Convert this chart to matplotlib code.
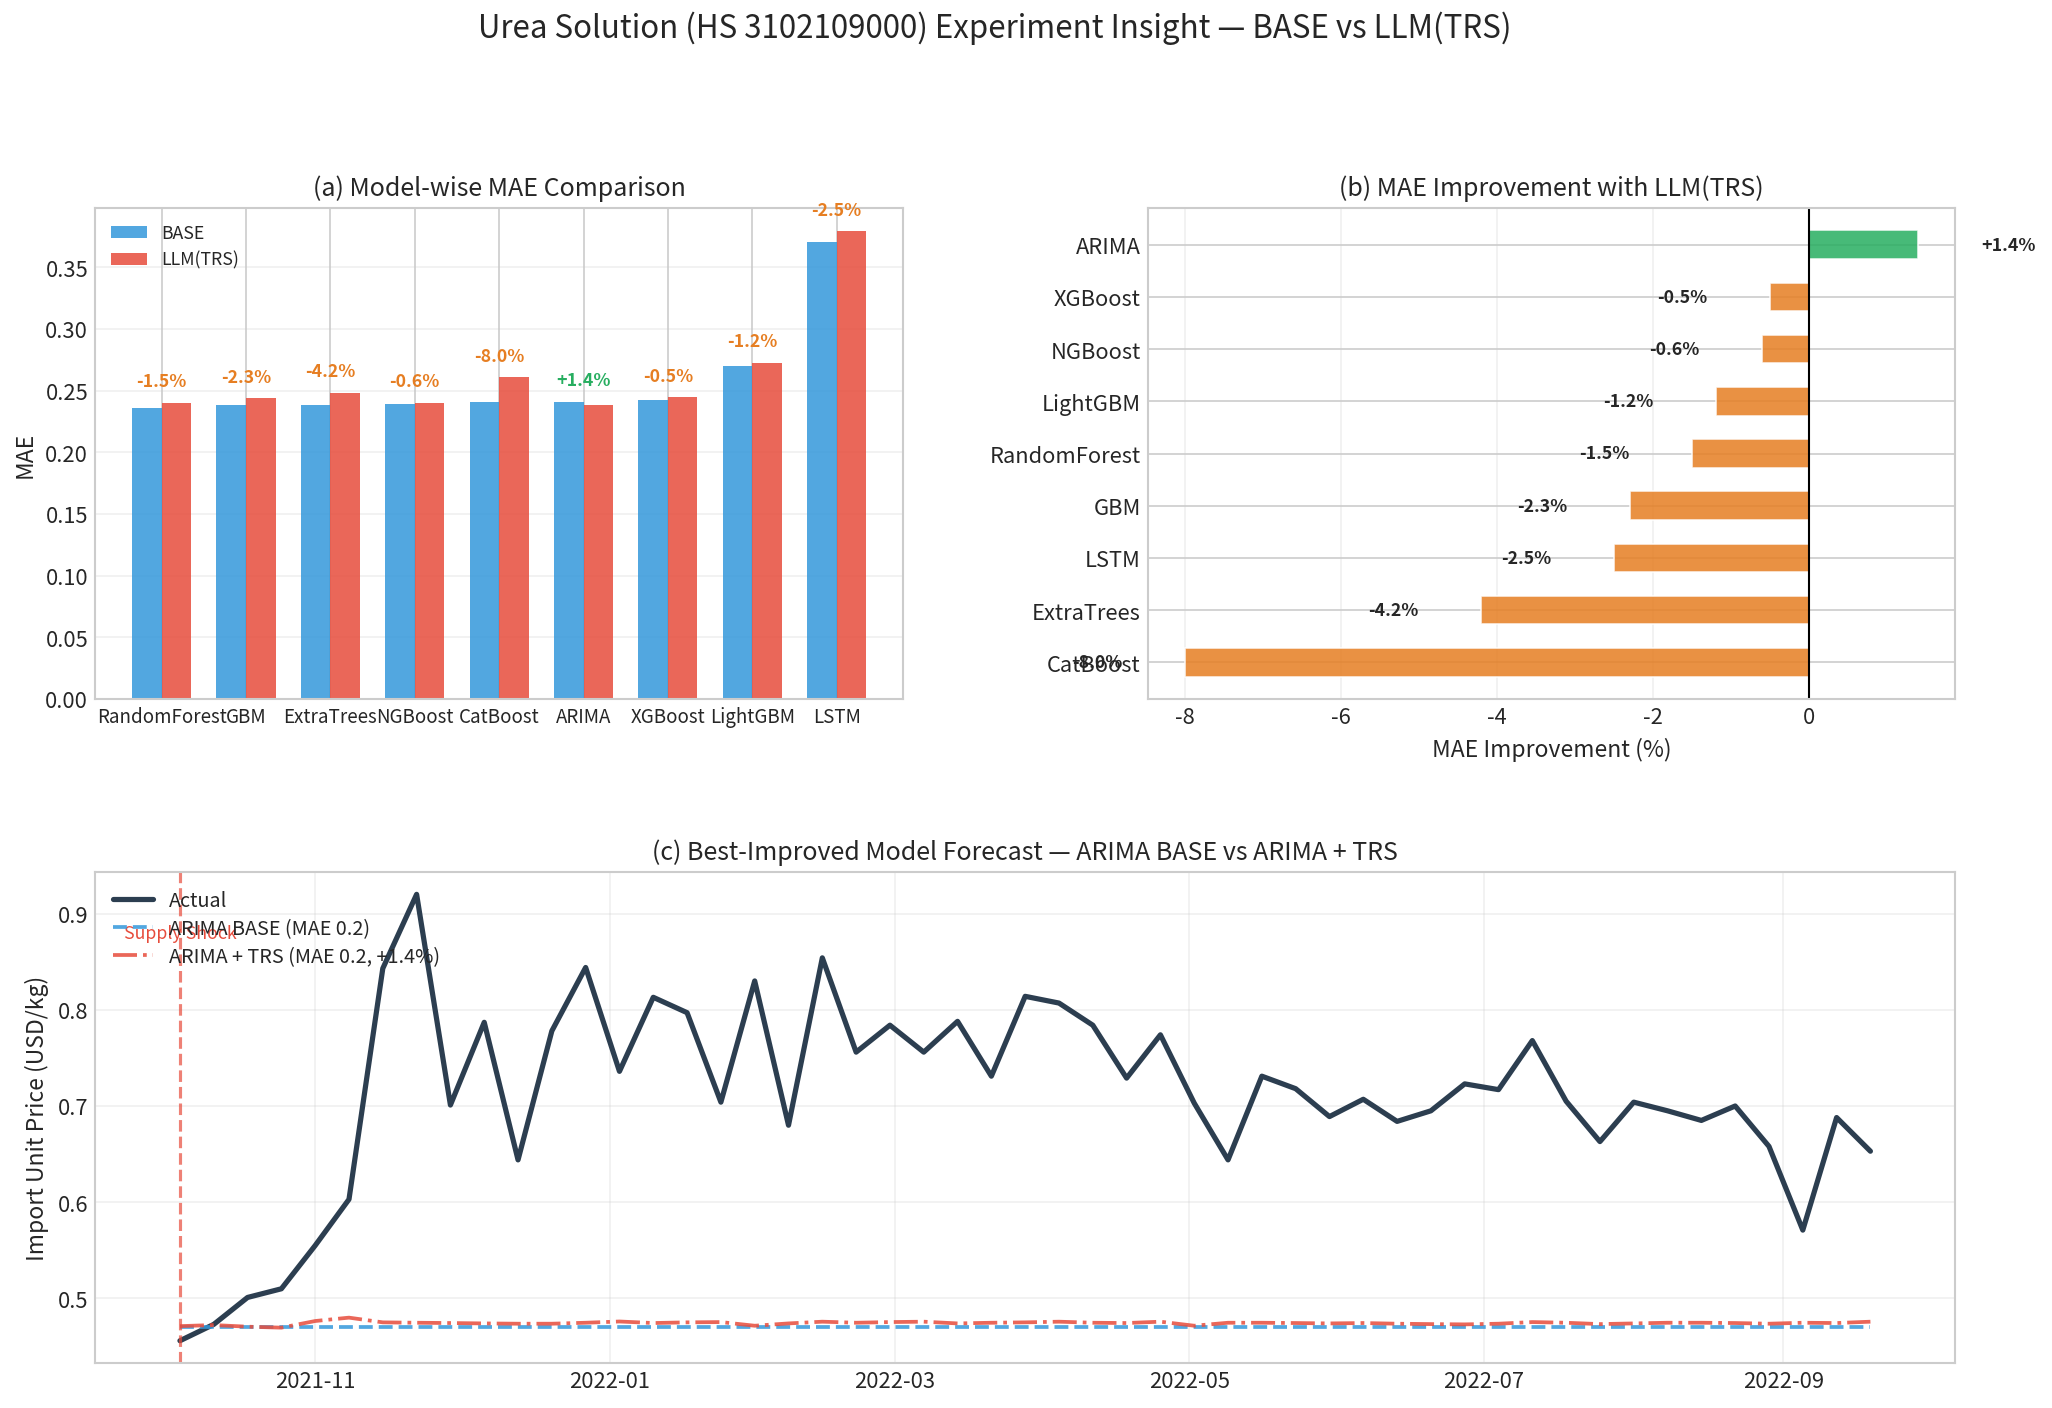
import matplotlib
matplotlib.use("Agg")
import matplotlib.pyplot as plt
import matplotlib.dates as mdates
import numpy as np
import pandas as pd

plt.style.use("seaborn-v0_8-whitegrid")
plt.rcParams["font.family"] = ["Noto Sans CJK KR", "DejaVu Sans"]
plt.rcParams["axes.unicode_minus"] = False

# ---- data ----
MODELS = ["RandomForest", "GBM", "ExtraTrees", "NGBoost", "CatBoost",
          "ARIMA", "XGBoost", "LightGBM", "LSTM"]
BASE_MAE = [0.2362, 0.2379, 0.2379, 0.2388, 0.2410, 0.2410, 0.2427, 0.2703, 0.3702]
TRS_MAE = [0.2402, 0.2436, 0.2484, 0.2402, 0.2607, 0.2379, 0.2444, 0.2726, 0.3790]
IMPROVE_PCT = [-1.5, -2.3, -4.2, -0.6, -8.0, 1.4, -0.5, -1.2, -2.5]

START_DATE = "2021-10-04"
ACTUAL = [0.456, 0.473, 0.501, 0.510, 0.555, 0.603, 0.843, 0.920, 0.701, 0.787,
          0.644, 0.778, 0.844, 0.736, 0.813, 0.797, 0.704, 0.830, 0.680, 0.854,
          0.756, 0.784, 0.756, 0.788, 0.731, 0.814, 0.807, 0.784, 0.729, 0.774,
          0.703, 0.644, 0.731, 0.718, 0.689, 0.707, 0.684, 0.695, 0.723, 0.717,
          0.768, 0.705, 0.663, 0.704, 0.695, 0.685, 0.700, 0.658, 0.571, 0.688,
          0.653]
ARIMA_BASE = [0.4706, 0.4706, 0.4706, 0.4706, 0.4706, 0.4706, 0.4706, 0.4706, 0.4706, 0.4706,
              0.4706, 0.4706, 0.4706, 0.4706, 0.4706, 0.4706, 0.4706, 0.4706, 0.4706, 0.4706,
              0.4706, 0.4706, 0.4706, 0.4706, 0.4706, 0.4706, 0.4706, 0.4706, 0.4706, 0.4706,
              0.4706, 0.4706, 0.4706, 0.4706, 0.4706, 0.4706, 0.4706, 0.4706, 0.4706, 0.4706,
              0.4706, 0.4706, 0.4706, 0.4706, 0.4706, 0.4706, 0.4706, 0.4706, 0.4706, 0.4706,
              0.4706]
ARIMA_TRS = [0.4712, 0.4723, 0.4706, 0.4696, 0.4765, 0.4800, 0.4751, 0.4747, 0.4744, 0.4740,
             0.4737, 0.4737, 0.4747, 0.4760, 0.4744, 0.4751, 0.4754, 0.4716, 0.4740, 0.4758,
             0.4747, 0.4754, 0.4758, 0.4740, 0.4747, 0.4751, 0.4758, 0.4747, 0.4744, 0.4758,
             0.4716, 0.4747, 0.4747, 0.4744, 0.4740, 0.4744, 0.4737, 0.4733, 0.4730, 0.4737,
             0.4754, 0.4747, 0.4733, 0.4740, 0.4747, 0.4747, 0.4744, 0.4737, 0.4747, 0.4744,
             0.4758]
SHOCK_LABEL_Y = 0.88

C_BASE = "#3498db"
C_TRS = "#e74c3c"
C_NEG = "#e67e22"
C_POS = "#27ae60"
C_ACT = "#2c3e50"

fig = plt.figure(figsize=(13.68, 9.393), dpi=150)
ax_a = fig.add_axes([0.0465, 0.5032, 0.3935, 0.3485])
ax_b = fig.add_axes([0.5595, 0.5032, 0.3933, 0.3485])
ax_c = fig.add_axes([0.0465, 0.0319, 0.9062, 0.3485])

# (a) model-wise MAE
x = np.arange(len(MODELS))
w = 0.35
ax_a.bar(x - w / 2, BASE_MAE, w, color=C_BASE, alpha=0.85, label="BASE")
ax_a.bar(x + w / 2, TRS_MAE, w, color=C_TRS, alpha=0.85, label="LLM(TRS)")
for i, imp in enumerate(IMPROVE_PCT):
    top = max(BASE_MAE[i], TRS_MAE[i])
    ax_a.text(x[i], top + 0.01, f"{imp:+.1f}%", ha="center", va="bottom",
              fontsize=8.5, fontweight="bold", color=C_POS if imp > 0 else C_NEG)
ax_a.set_xticks(x)
ax_a.set_xticklabels(MODELS, fontsize=9)
ax_a.tick_params(axis="y", labelsize=10.5)
ax_a.set_ylabel("MAE", fontsize=11)
ax_a.set_title("(a) Model-wise MAE Comparison", fontsize=12)
ax_a.legend(loc="upper left", fontsize=8.5)
ax_a.grid(axis="y", alpha=0.3)

# (b) improvement, sorted
order = np.argsort(IMPROVE_PCT)
names_sorted = [MODELS[i] for i in order]
imp_sorted = [IMPROVE_PCT[i] for i in order]
colors = [C_POS if v > 0 else C_NEG for v in imp_sorted]
y = np.arange(len(names_sorted))
ax_b.barh(y, imp_sorted, height=0.55, color=colors, alpha=0.85,
          edgecolor="white", linewidth=0.8)
ax_b.axvline(0, color="black", linewidth=1)
for yi, v in zip(y, imp_sorted):
    if v < 0:
        ax_b.text(v - 0.8, yi, f"{v:+.1f}%", ha="right", va="center",
                  fontsize=8.5, fontweight="bold")
    else:
        ax_b.text(v + 0.8, yi, f"{v:+.1f}%", ha="left", va="center",
                  fontsize=8.5, fontweight="bold")
ax_b.set_yticks(y)
ax_b.set_yticklabels(names_sorted, fontsize=10.5)
ax_b.tick_params(axis="x", labelsize=10.5)
ax_b.set_xlabel("MAE Improvement (%)", fontsize=11)
ax_b.set_title("(b) MAE Improvement with LLM(TRS)", fontsize=12)
ax_b.grid(axis="x", alpha=0.3)

# (c) forecast
dates = pd.date_range(START_DATE, periods=len(ACTUAL), freq="7D")
ax_c.plot(dates, ACTUAL, color=C_ACT, linewidth=2.5, label="Actual")
ax_c.plot(dates, ARIMA_BASE, color=C_BASE, linestyle="--", linewidth=1.8,
          alpha=0.85, label="ARIMA BASE (MAE 0.2)")
ax_c.plot(dates, ARIMA_TRS, color=C_TRS, linestyle="-.", linewidth=1.8,
          alpha=0.85, label="ARIMA + TRS (MAE 0.2, +1.4%)")
ax_c.axvline(dates[0], color=C_TRS, linestyle="--", linewidth=1.5, alpha=0.7)
ax_c.text(dates[0], SHOCK_LABEL_Y, "Supply Shock", ha="center", va="center",
          fontsize=8.5, color=C_TRS)
ax_c.xaxis.set_major_locator(mdates.MonthLocator(bymonth=[1, 3, 5, 7, 9, 11]))
ax_c.xaxis.set_major_formatter(mdates.DateFormatter("%Y-%m"))
ax_c.tick_params(labelsize=10.5)
ax_c.set_ylabel("Import Unit Price (USD/kg)", fontsize=11)
ax_c.set_title("(c) Best-Improved Model Forecast — ARIMA BASE vs ARIMA + TRS", fontsize=12)
ax_c.legend(loc="upper left", fontsize=9.5, labelspacing=0.35)
ax_c.grid(alpha=0.3)

fig.suptitle("Urea Solution (HS 3102109000) Experiment Insight — BASE vs LLM(TRS)",
             fontsize=15, x=0.485, y=0.992)

fig.savefig("out.png", dpi=150)
